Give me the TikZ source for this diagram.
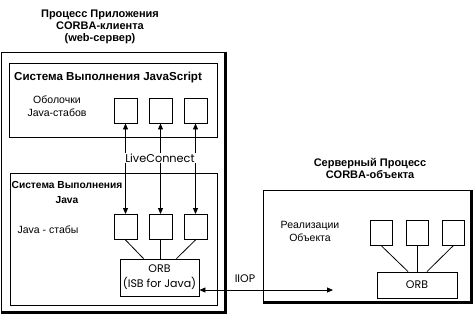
\documentclass[tikz,border=0pt]{standalone}
\usepackage{fontspec}
\setmainfont{Liberation Sans}
\newfontfamily\geo{Poppins}
\usetikzlibrary{arrows.meta,calc}
\begin{document}
\begin{tikzpicture}[x=1pt,y=-1pt,
  box/.style={draw,line width=0.9pt,inner sep=0pt},
  stub/.style={box,minimum width=23pt,minimum height=25pt},
  ttl/.style={font=\bfseries\fontsize{11}{12}\selectfont,align=center,inner sep=0pt},
  lbl/.style={font=\fontsize{10.5}{13}\selectfont,align=center,inner sep=0pt},
  geolbl/.style={font=\geo\fontsize{11}{15}\selectfont,align=center,inner sep=0pt},
  conn/.style={line width=0.8pt},
  arr/.style={line width=0.9pt,-{Triangle[width=5pt,length=6pt]}},
  shadowline/.style={line width=3pt},
]
\useasboundingbox (0,0) rectangle (473,314);
% client process
\node[ttl] (t1) at (100,27) {Процесс Приложения\\CORBA-клиента\\(web-сервер)};
\node[box,minimum width=224pt,minimum height=260pt] (client) at (113,182) {};
\draw[shadowline] (client.north east) -- (client.south east) -- (client.south west);
% JavaScript runtime
\node[box,minimum width=208pt,minimum height=74pt] (js) at (113,100) {};
\node[ttl,font=\bfseries\fontsize{11.6}{12}\selectfont,anchor=west] (jst) at (14,77) {Система Выполнения JavaScript};
\node[lbl] (obl) at (57,106.5) {Оболочки\\Java-стабов};
\node[stub] (a1) at (125.5,110.5) {};
\node[stub] (a2) at (160.5,110.5) {};
\node[stub] (a3) at (195.5,110.5) {};
% LiveConnect
\node[geolbl,font=\geo\fontsize{11.3}{15}\selectfont] (lc) at (160,158) {LiveConnect};
% Java runtime
\node[box,minimum width=207pt,minimum height=132pt] (jv) at (113.5,239) {};
\node[font=\bfseries\fontsize{10.2}{15}\selectfont,align=center,inner sep=0pt] (jvt) at (67,192.5) {Система Выполнения\\Java};
\node[lbl] (jstub) at (48,230) {Java - стабы};
\node[stub] (b1) at (125.5,227) {};
\node[stub] (b2) at (160.5,227) {};
\node[stub] (b3) at (195.5,227) {};
\node[box,geolbl,minimum width=79pt,minimum height=37pt] (orb) at (159.5,277.5) {ORB\\(ISB for Java)};
% arrows LiveConnect
\foreach \i in {1,2,3}{
  \draw[arr] (lc.north -| a\i.south) -- (a\i.south);
  \draw[arr] (lc.south -| b\i.north) -- (b\i.north);
}
\draw[conn] (b1.south) -- ($(orb.north)+(-16,0)$);
\draw[conn] (b2.south) -- (b2.south |- orb.north);
\draw[conn] (b3.south) -- ($(orb.north)+(17,0)$);
% server process
\node[ttl] (t2) at (370,168.5) {Серверный Процесс\\CORBA-объекта};
\node[box,minimum width=208pt,minimum height=112pt] (srv) at (367,246) {};
\draw[shadowline] (srv.north east) -- (srv.south east) -- (srv.south west);
\node[lbl] (real) at (310,231.5) {Реализации\\Объекта};
\node[stub,minimum width=22pt] (c1) at (381,232.5) {};
\node[stub,minimum width=22pt] (c2) at (417.5,232.5) {};
\node[stub,minimum width=22pt] (c3) at (453.5,232.5) {};
\node[box,geolbl,minimum width=80pt,minimum height=26pt] (orb2) at (417,285) {ORB};
\draw[conn] (c1.south) -- ($(orb2.north)+(-9,0)$);
\draw[conn] (c2.south) -- (c2.south |- orb2.north);
\draw[conn] (c3.south) -- ($(orb2.north)+(10,0)$);
% IIOP
\coordinate (iiopend) at (333,290);
\draw[line width=0.9pt,{Triangle[width=5pt,length=6pt]}-{Triangle[width=5pt,length=6pt]}] (orb.east |- iiopend) -- (iiopend);
\node[geolbl] (iiop) at (245,279) {IIOP};
\end{tikzpicture}
\end{document}
